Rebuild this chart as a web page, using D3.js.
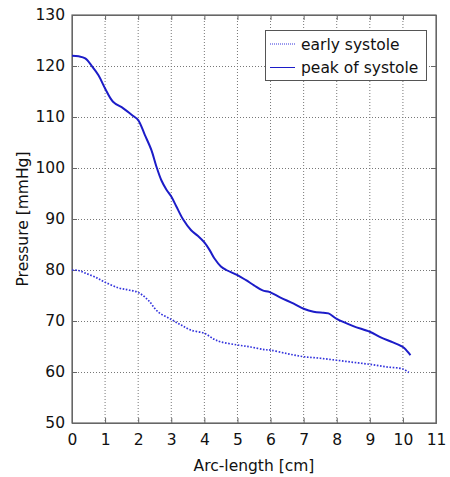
<!DOCTYPE html>
<html><head><meta charset="utf-8">
<script src="https://cdn.jsdelivr.net/npm/d3@7"></script>
<style>body{margin:0;background:#fff}svg{display:block}text{font-family:"DejaVu Sans",Verdana,sans-serif;fill:#111}</style>
</head><body><svg id="c" width="450" height="477"></svg>
<script>
const peakX = [0,0.2,0.4,0.6,0.8,1.0,1.24,1.55,1.85,2.0,2.2,2.4,2.55,2.7,2.85,3.0,3.15,3.35,3.6,3.8,4.0,4.16,4.3,4.5,4.66,5.0,5.26,5.5,5.76,5.96,6.3,6.7,7.0,7.3,7.6,7.75,8.0,8.5,9.0,9.33,9.7,10.0,10.1,10.23];
const peakY = [122,121.9,121.5,120.0,118.2,115.6,113.0,111.7,110.2,109.4,106.5,103.5,100.3,97.6,95.8,94.4,92.5,90.0,87.8,86.7,85.4,83.9,82.3,80.7,80.0,79.0,78.0,77.0,76.0,75.7,74.6,73.4,72.4,71.8,71.6,71.5,70.4,69.0,67.9,66.8,65.8,64.9,64.3,63.3];
const earlyX = [0,0.2,0.4,0.7,1.0,1.4,1.7,2.0,2.3,2.6,3.0,3.3,3.6,4.0,4.3,4.5,5.0,5.4,5.8,6.0,6.5,7.0,7.5,8.0,8.5,9.0,9.5,10.0,10.18];
const earlyY = [80,79.9,79.4,78.6,77.6,76.5,76.1,75.6,74.1,71.8,70.3,69.2,68.2,67.6,66.4,65.9,65.3,64.9,64.4,64.3,63.6,63.0,62.7,62.3,61.9,61.5,61.0,60.6,59.9];
const xTicks = [0,1,2,3,4,5,6,7,8,9,10,11];
const yTicks = [50,60,70,80,90,100,110,120,130];
const seriesNames = ["early systole","peak of systole"];

const L=72,R=436,T=15,B=423;
const svg=d3.select("#c");
const x=d3.scaleLinear().domain([0,11]).range([L,R]);
const y=d3.scaleLinear().domain([50,130]).range([B,T]);
const blue="#1c1cc8";

// grid
const g=svg.append("g");
g.selectAll(".vx").data(xTicks.slice(1,-1)).join("line")
 .attr("x1",d=>x(d)).attr("x2",d=>x(d)).attr("y1",T).attr("y2",B)
 .attr("stroke","#777").attr("stroke-width",1).attr("stroke-dasharray","1,2");
g.selectAll(".hy").data(yTicks.slice(1,-1)).join("line")
 .attr("y1",d=>y(d)+0.5).attr("y2",d=>y(d)+0.5).attr("x1",L).attr("x2",R)
 .attr("stroke","#777").attr("stroke-width",1).attr("stroke-dasharray","1,2");

// axes
svg.append("g").attr("transform",`translate(0,${B})`)
 .call(d3.axisBottom(x).tickValues(xTicks).tickSize(-5).tickPadding(11).tickFormat(d3.format("d")));
svg.append("g").attr("transform",`translate(${L},0)`)
 .call(d3.axisLeft(y).tickValues(yTicks).tickSize(-5).tickPadding(7).tickFormat(d3.format("d")));
svg.append("g").attr("transform",`translate(0,${T})`)
 .call(d3.axisTop(x).tickValues(xTicks).tickSize(-5).tickFormat(""));
svg.append("g").attr("transform",`translate(${R},0)`)
 .call(d3.axisRight(y).tickValues(yTicks).tickSize(-5).tickFormat(""));
svg.selectAll(".domain").attr("stroke","#666");
svg.selectAll(".tick line").attr("stroke","#666");
svg.selectAll(".tick text").attr("font-size",15.5).attr("fill","#111").attr("font-family","DejaVu Sans, sans-serif");
svg.append("rect").attr("x",L).attr("y",T).attr("width",R-L).attr("height",B-T)
 .attr("fill","none").attr("stroke","#666").attr("stroke-width",1.2);

// lines
const line=d3.line().x(d=>x(d[0])).y(d=>y(d[1])).curve(d3.curveCatmullRom.alpha(0.5));
svg.append("path").datum(earlyX.map((v,i)=>[v,earlyY[i]])).attr("d",line)
 .attr("fill","none").attr("stroke","#3333dd").attr("stroke-width",1.7).attr("stroke-dasharray","1.6,1.6");
svg.append("path").datum(peakX.map((v,i)=>[v,peakY[i]])).attr("d",line)
 .attr("fill","none").attr("stroke",blue).attr("stroke-width",2);

// labels
svg.append("text").attr("x",(L+R)/2).attr("y",471).attr("text-anchor","middle").attr("font-size",15.5).text("Arc-length [cm]");
svg.append("text").attr("transform",`translate(28,${(T+B)/2}) rotate(-90)`).attr("text-anchor","middle").attr("font-size",15.5).text("Pressure [mmHg]");

// legend
const lg=svg.append("g");
lg.append("rect").attr("x",265.5).attr("y",30.5).attr("width",161).attr("height",50).attr("fill","#fff").attr("stroke","#555").attr("stroke-width",1);
lg.append("line").attr("x1",270).attr("x2",295).attr("y1",44).attr("y2",44).attr("stroke","#3333dd").attr("stroke-width",1).attr("stroke-dasharray","1,1");
lg.append("line").attr("x1",270).attr("x2",295).attr("y1",67.5).attr("y2",67.5).attr("stroke",blue).attr("stroke-width",1);
lg.append("text").attr("x",301).attr("y",50).attr("font-size",15.5).text(seriesNames[0]);
lg.append("text").attr("x",301).attr("y",73).attr("font-size",15.5).text(seriesNames[1]);
</script></body></html>
